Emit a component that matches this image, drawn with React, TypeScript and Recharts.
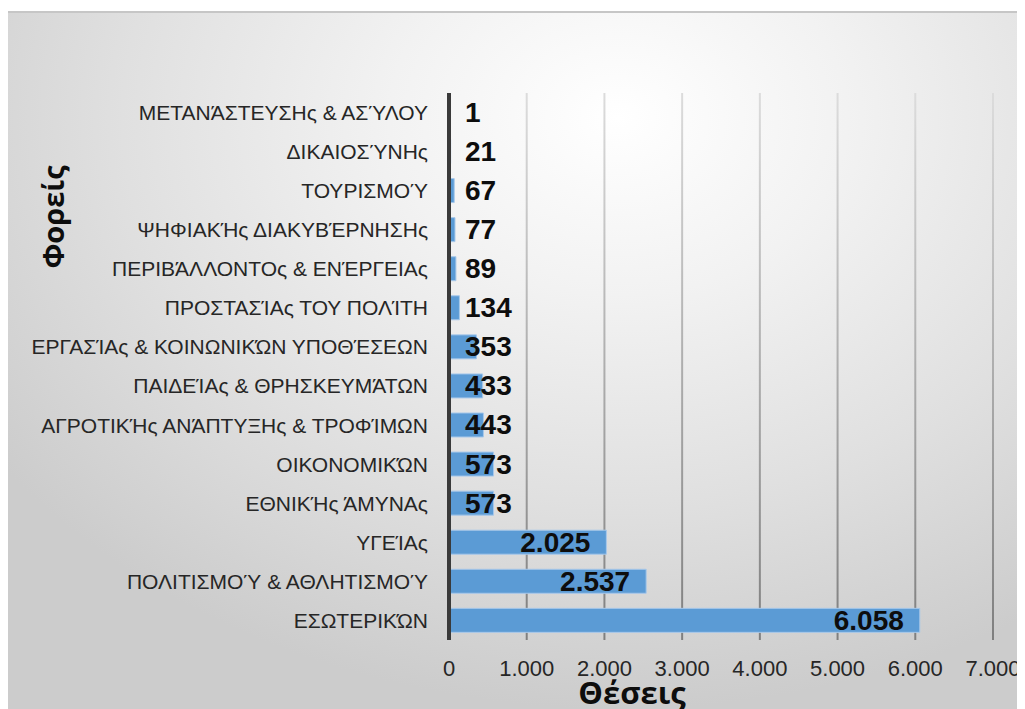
import { BarChart, Bar, XAxis, YAxis, CartesianGrid, LabelList } from "recharts";

const categories = [
  "ΜΕΤΑΝΆΣΤΕΥΣΗς  & ΑΣΎΛΟΥ",
  "ΔΙΚΑΙΟΣΎΝΗς",
  "ΤΟΥΡΙΣΜΟΎ",
  "ΨΗΦΙΑΚΉς  ΔΙΑΚΥΒΈΡΝΗΣΗς",
  "ΠΕΡΙΒΆΛΛΟΝΤΟς  & ΕΝΈΡΓΕΙΑς",
  "ΠΡΟΣΤΑΣΊΑς ΤΟΥ ΠΟΛΊΤΗ",
  "ΕΡΓΑΣΊΑς & ΚΟΙΝΩΝΙΚΏΝ ΥΠΟΘΈΣΕΩΝ",
  "ΠΑΙΔΕΊΑς & ΘΡΗΣΚΕΥΜΆΤΩΝ",
  "ΑΓΡΟΤΙΚΉς  ΑΝΆΠΤΥΞΗς  & ΤΡΟΦΊΜΩΝ",
  "ΟΙΚΟΝΟΜΙΚΏΝ",
  "ΕΘΝΙΚΉς ΆΜΥΝΑς",
  "ΥΓΕΊΑς",
  "ΠΟΛΙΤΙΣΜΟΎ  & ΑΘΛΗΤΙΣΜΟΎ",
  "ΕΣΩΤΕΡΙΚΏΝ",
];
const positions = [1, 21, 67, 77, 89, 134, 353, 433, 443, 573, 573, 2025, 2537, 6058];
const xTicks = [0, 1000, 2000, 3000, 4000, 5000, 6000, 7000];

const data = categories.map((name, i) => ({ name, value: positions[i] }));

// greek style thousands: 6.058
const fmt = (v: number) => String(v).replace(/\B(?=(\d{3})+(?!\d))/g, ".");

const LABEL_SIZE = 28;

// @ts-ignore
const renderValueLabel = (props) => {
  const { x, y, width, height, value } = props;
  const text = fmt(value);
  const textW = text.length * LABEL_SIZE * 0.556;
  const fits = width - 32 > textW;
  return (
    <text
      x={fits ? x + width - 16 : x + 16}
      y={y + height / 2}
      textAnchor={fits ? "end" : "start"}
      dominantBaseline="central"
      fill="#0d0d0d"
      style={{ fontSize: LABEL_SIZE, fontWeight: 700, fontFamily: "'Liberation Sans', Arial, sans-serif" }}
    >
      {text}
    </text>
  );
};

export default function App() {
  return (
    <div
      style={{
        marginTop: 3,
        width: 1017,
        height: 698,
        borderTop: "2px solid #c6c6c6",
        boxSizing: "border-box",
        background:
          "radial-gradient(ellipse 75% 85% at 60% 15%, #ffffff 0%, #f2f2f2 30%, #e0e0e0 65%, #cccccc 100%)",
      }}
    >
      <BarChart
        layout="vertical"
        width={1017}
        height={696}
        data={data}
        margin={{ top: 80, right: 32, bottom: 0, left: 141 }}
        barCategoryGap="19%"
      >
        <defs>
          <linearGradient id="gridGrad" gradientUnits="userSpaceOnUse" x1="0" y1="80" x2="0" y2="627">
            <stop offset="0%" stopColor="#dcdcdc" />
            <stop offset="100%" stopColor="#7f7f7f" />
          </linearGradient>
        </defs>
        <CartesianGrid horizontal={false} stroke="url(#gridGrad)" strokeWidth={2} />
        <XAxis
          type="number"
          domain={[0, 7000]}
          ticks={xTicks}
          tickFormatter={fmt}
          axisLine={false}
          tickLine={false}
          tickMargin={14}
          height={69}
          tick={{ fontSize: 22, fill: "#262626", fontFamily: "'Liberation Sans', Arial, sans-serif" }}
          label={{
            content: (p: any) => (
              <text
                x={p.viewBox.x + 183}
                y={p.viewBox.y + 64}
                textAnchor="middle"
                fill="#0d0d0d"
                style={{ fontSize: 31, fontWeight: 700, fontFamily: "'Open Sans', sans-serif" }}
              >
                Θέσεις
              </text>
            ),
          }}
        />
        <YAxis
          type="category"
          dataKey="name"
          width={300}
          axisLine={{ stroke: "#3a3a3a", strokeWidth: 4 }}
          tickLine={false}
          tickMargin={15}
          interval={0}
          tick={{ fontSize: 21, fill: "#262626", fontFamily: "'Liberation Sans', Arial, sans-serif" }}
          label={{
            content: () => (
              <text
                x={44}
                y={204}
                transform="rotate(-90 44 204)"
                textAnchor="middle"
                dominantBaseline="central"
                fill="#0d0d0d"
                style={{ fontSize: 29, fontWeight: 700, fontFamily: "'Open Sans', sans-serif" }}
              >
                Φορείς
              </text>
            ),
          }}
        />
        <Bar dataKey="value" fill="#5b9bd5" stroke="#a7c8ea" strokeWidth={1} isAnimationActive={false}>
          <LabelList dataKey="value" content={renderValueLabel} />
        </Bar>
      </BarChart>
    </div>
  );
}
